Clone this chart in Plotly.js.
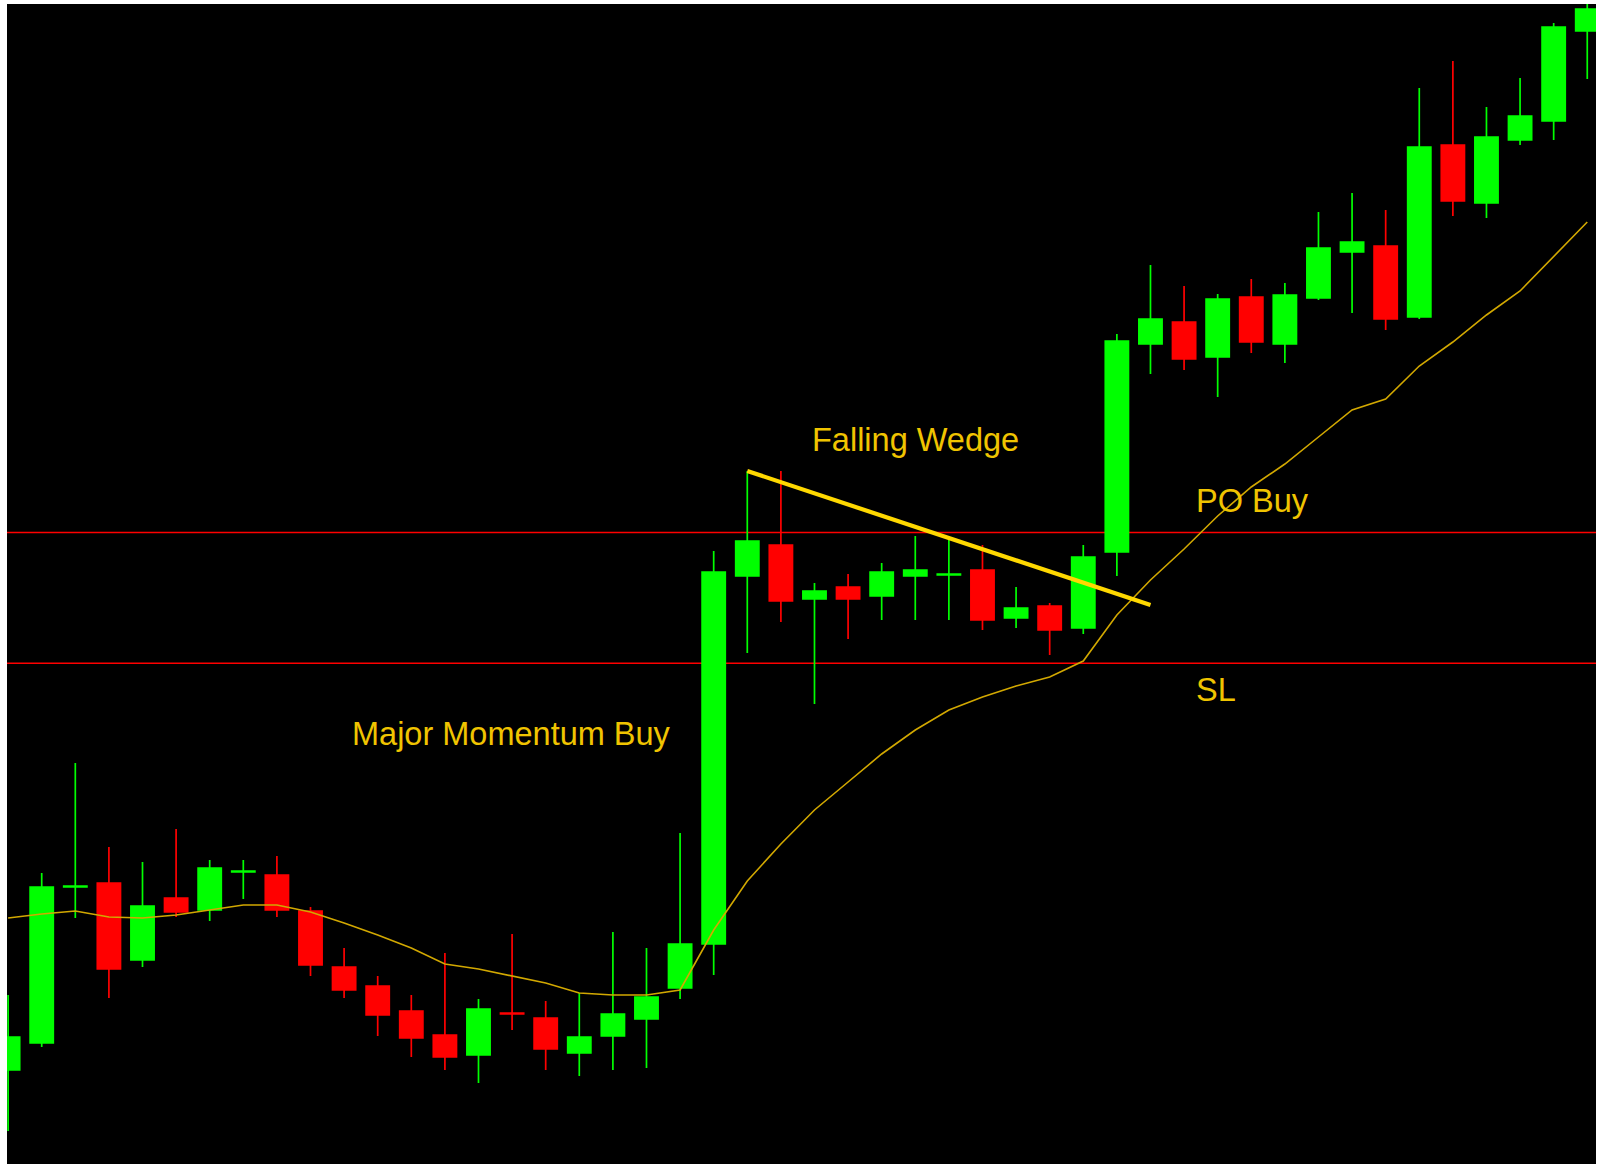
<!DOCTYPE html>
<html>
<head>
<meta charset="utf-8">
<script src="https://cdn.plot.ly/plotly-3.0.1.min.js"></script>
<style>
    html, body { margin: 0; padding: 0; background: #ffffff; }
    #chart { width: 1598px; height: 1164px; }
</style>
</head>
<body>
<div id="chart"></div>
<script>
// Price values in chart points (higher = up)
const opens  = [94, 121, 277, 281, 204, 266, 254, 292, 289, 253, 197, 178, 153, 129, 109, 151, 146, 111, 128, 145,
                176, 220, 588, 619, 565, 577, 568, 588, 589, 594, 546, 558, 536, 612, 820, 842, 807, 867, 820, 866,
                912, 918, 847, 1019, 961, 1024, 1043, 1133];
const highs  = [169, 291, 401, 317, 302, 335, 304, 304, 308, 257, 216, 188, 169, 211, 165, 230, 163, 171, 232, 216,
                331, 613, 693, 693, 581, 590, 601, 628, 624, 619, 577, 561, 619, 830, 899, 878, 870, 885, 881, 952,
                971, 954, 1076, 1103, 1057, 1086, 1141, 1170];
const lows   = [33, 117, 246, 166, 197, 247, 243, 265, 247, 188, 166, 128, 107, 94, 81, 134, 94, 88, 94, 96,
                165, 189, 511, 542, 460, 525, 544, 544, 544, 534, 536, 509, 530, 588, 790, 794, 767, 811, 801, 864,
                851, 834, 845, 948, 946, 1019, 1024, 1085];
const closes = [127, 277, 278, 195, 258, 252, 296, 293, 254, 199, 174, 149, 126, 107, 155, 150, 115, 127, 150, 167,
                220, 592, 623, 563, 573, 565, 592, 594, 590, 544, 556, 534, 607, 823, 845, 805, 865, 822, 869, 916,
                922, 845, 1017, 963, 1027, 1048, 1137, 1155];

// moving average line
const maValues = [246, 250, 253, 247, 246, 249, 254, 259, 259, 252, 241, 229, 216, 200, 195, 188, 181, 171, 169, 169,
                  174, 234, 283, 320, 354, 382, 410, 434, 454, 467, 478, 487, 503, 549, 584, 615, 648, 677, 700, 727,
                  754, 765, 798, 822, 849, 873, 908, 942];

// horizontal levels: PO Buy line and SL line
const levels = [631.5, 500.7];

// falling wedge trendline
const wedgeX = [22, 34];
const wedgeY = [693, 559];

// text labels
const labelTexts = ['Major Momentum Buy', 'Falling Wedge', 'PO Buy', 'SL'];
const labelX = [14.98, 27.0, 35.3, 35.3];
const labelY = [430, 724, 663, 474];
const labelAnchor = ['center', 'center', 'left', 'left'];

const candleIndex = opens.map((_, i) => i);

const candles = {
    type: 'candlestick',
    x: candleIndex,
    open: opens,
    high: highs,
    low: lows,
    close: closes,
    increasing: { line: { color: '#00ff00', width: 1.7 }, fillcolor: '#00ff00' },
    decreasing: { line: { color: '#ff0000', width: 1.7 }, fillcolor: '#ff0000' },
    whiskerwidth: 0,
    hoverinfo: 'skip'
};

const maTrace = {
    type: 'scatter',
    mode: 'lines',
    x: candleIndex,
    y: maValues,
    line: { color: '#d2a800', width: 1.6 },
    hoverinfo: 'skip'
};

const wedgeTrace = {
    type: 'scatter',
    mode: 'lines',
    x: wedgeX,
    y: wedgeY,
    line: { color: '#ffd800', width: 4.2 },
    hoverinfo: 'skip'
};

const layout = {
    width: 1598,
    height: 1164,
    paper_bgcolor: '#ffffff',
    plot_bgcolor: '#000000',
    margin: { l: 7, r: 2, t: 4, b: 0 },
    showlegend: false,
    boxgap: 0.31,
    boxgroupgap: 0,
    font: { family: 'Liberation Sans, Arial, sans-serif' },
    xaxis: {
        range: [-0.033, 47.26],
        showgrid: false, zeroline: false, showticklabels: false, ticks: '',
        rangeslider: { visible: false }
    },
    yaxis: {
        range: [0, 1160],
        showgrid: false, zeroline: false, showticklabels: false, ticks: ''
    },
    shapes: levels.map(v => ({
        type: 'line', xref: 'paper', x0: 0, x1: 1, yref: 'y', y0: v, y1: v,
        line: { color: '#ff0000', width: 1.6 }, layer: 'below'
    })),
    annotations: labelTexts.map((t, i) => ({
        text: t, x: labelX[i], y: labelY[i], xref: 'x', yref: 'y',
        xanchor: labelAnchor[i], yanchor: 'middle', showarrow: false,
        font: { size: 32.5, color: '#f0c400', family: 'Liberation Sans, Arial, sans-serif' }
    }))
};

Plotly.newPlot('chart', [maTrace, candles, wedgeTrace], layout, { displayModeBar: false, staticPlot: true });
</script>
</body>
</html>
